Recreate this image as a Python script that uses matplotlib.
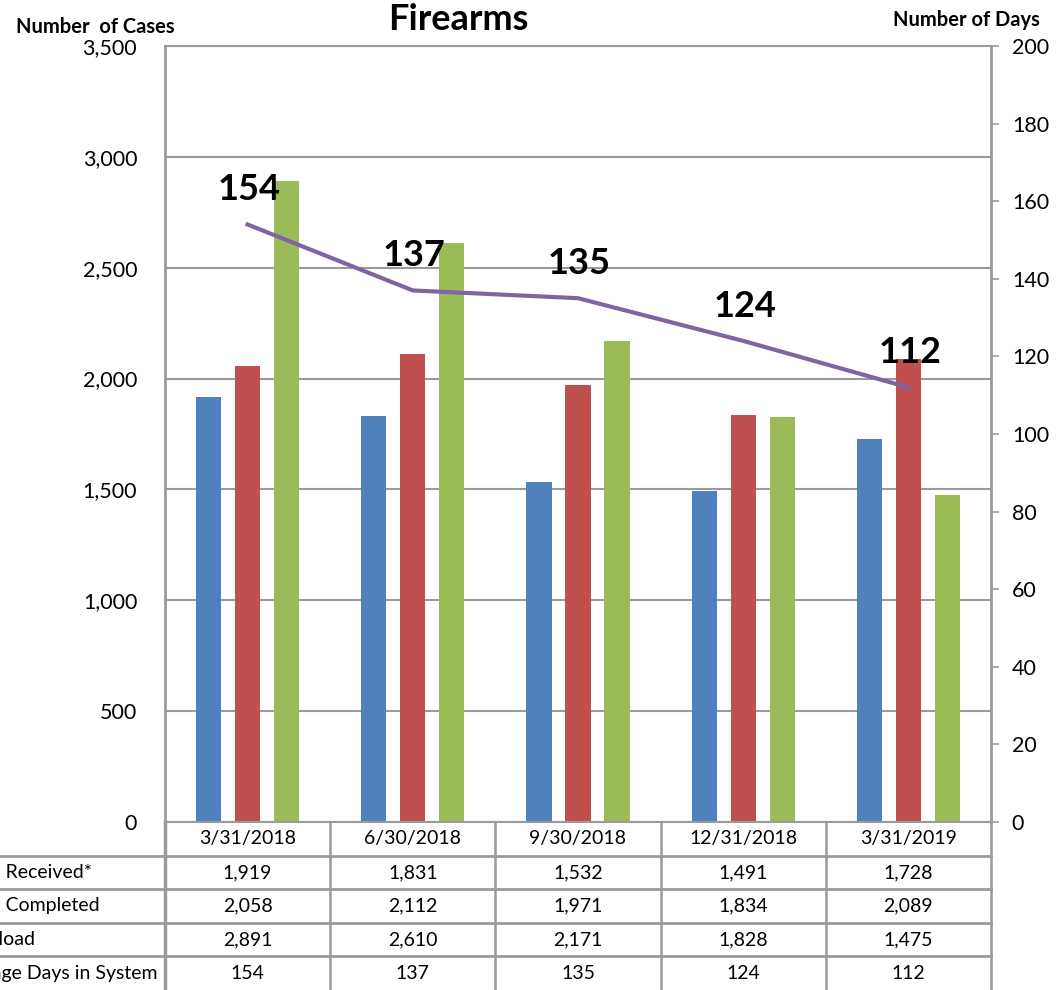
import matplotlib
matplotlib.use("Agg")
import matplotlib.pyplot as plt
import numpy as np

plt.rcParams["font.family"] = ["Lato", "DejaVu Sans"]

dates = ["3/31/2018", "6/30/2018", "9/30/2018", "12/31/2018", "3/31/2019"]
received = [1919, 1831, 1532, 1491, 1728]
completed = [2058, 2112, 1971, 1834, 2089]
workload = [2891, 2610, 2171, 1828, 1475]
avg_days = [154, 137, 135, 124, 112]
row_labels = ["Cases Received*", "Cases Completed", "Workload", "Average Days in System"]

colors = {"received": "#4F81BD", "completed": "#C0504D", "workload": "#9BBB59", "days": "#8064A2"}
grid_col = "#9a9a9a"

# 100px per inch
fig = plt.figure(figsize=(10.63, 9.9), dpi=100)
ax = fig.add_axes([165 / 1063, 168 / 990, 826 / 1063, 776 / 990])
x = np.arange(len(dates))
w = 0.152
off = 0.236
ax.bar(x - off, received, w, color=colors["received"], zorder=2)
ax.bar(x, completed, w, color=colors["completed"], zorder=2)
ax.bar(x + off, workload, w, color=colors["workload"], zorder=2)
ax.set_xlim(-0.5, len(dates) - 0.5)
ax.set_ylim(0, 3500)
ax.set_yticks(range(0, 3501, 500))
ax.set_yticklabels([f"{v:,}" for v in range(0, 3501, 500)], fontsize=15.5)
ax.tick_params(axis="y", length=0, pad=20)
ax.set_xticks([])
ax.grid(axis="y", color=grid_col, linewidth=1.5, zorder=0)
for s in ["left", "bottom", "top"]:
    ax.spines[s].set_color(grid_col)
    ax.spines[s].set_linewidth(1.5)
ax.spines["left"].set_linewidth(2)
ax.spines["right"].set_visible(False)

ax2 = ax.twinx()
ax2.plot(x, avg_days, color=colors["days"], linewidth=3, zorder=3)
for xi, d in zip(x, avg_days):
    ax2.annotate(str(d), (xi, d), xytext=(1, 13), textcoords="offset points",
                 ha="center", va="bottom", fontsize=26, fontweight="bold")
ax2.set_ylim(0, 200)
ax2.set_yticks(range(0, 201, 20))
ax2.tick_params(axis="y", labelsize=15.5, length=6, width=1.2, color=grid_col, pad=9)
for s in ["left", "bottom", "top"]:
    ax2.spines[s].set_visible(False)
ax2.spines["right"].set_color(grid_col)
ax2.spines["right"].set_linewidth(2)

fig.text(458 / 1063, 1 - 20 / 990, "Firearms", ha="center", va="center", fontsize=26, fontweight="bold")
fig.text(95 / 1063, 1 - 27 / 990, "Number  of Cases", ha="center", va="center", fontsize=14.5, fontweight="bold")
fig.text(1040 / 1063, 1 - 20 / 990, "Number of Days", ha="right", va="center", fontsize=14.5, fontweight="bold")

# data table under the chart
tab = fig.add_axes([165 / 1063, 0, 826 / 1063, 168 / 990])
tab.set_xlim(-0.5, len(dates) - 0.5)
tab.set_ylim(5, 0)
tab.axis("off")
rows = [received, completed, workload, avg_days]
for i, d in enumerate(dates):
    tab.text(i, 0.5, d, ha="center", va="center", fontsize=14)
    for r, vals in enumerate(rows):
        tab.text(i, r + 1.5, f"{vals[i]:,}", ha="center", va="center", fontsize=14)
for r, lab in enumerate(row_labels):
    tab.text(-1.795, r + 1.5, lab, ha="left", va="center", fontsize=14, clip_on=False)
for r in range(1, 5):
    tab.plot([-1.6, len(dates) - 0.5], [r, r], color=grid_col, linewidth=2, clip_on=False)
for i in range(len(dates) + 1):
    tab.plot([i - 0.5, i - 0.5], [0, 5], color=grid_col, linewidth=2.5 if i == 0 else 1.8, clip_on=False)

fig.savefig("out.png", dpi=100)
